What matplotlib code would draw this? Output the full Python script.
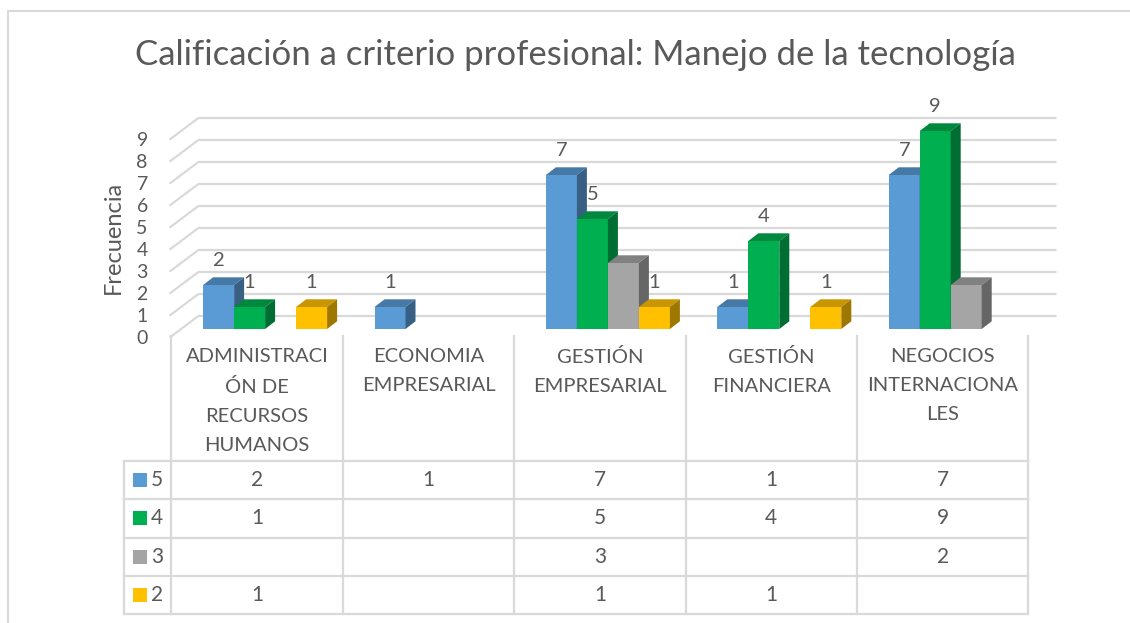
import numpy as np
import matplotlib
matplotlib.use("Agg")
import matplotlib.pyplot as plt
from matplotlib.patches import Polygon, Rectangle

plt.rcParams['font.family'] = ['Lato', 'DejaVu Sans']

# data
categorias = ["ADMINISTRACI\nÓN DE\nRECURSOS\nHUMANOS", "ECONOMIA\nEMPRESARIAL",
              "GESTIÓN\nEMPRESARIAL", "GESTIÓN\nFINANCIERA", "NEGOCIOS\nINTERNACIONA\nLES"]
series = ["5", "4", "3", "2"]
v5 = [2, 1, 7, 1, 7]
v4 = [1, np.nan, 5, 4, 9]
v3 = [np.nan, np.nan, 3, np.nan, 2]
v2 = [1, np.nan, 1, 1, np.nan]
valores = [v5, v4, v3, v2]
con_etiqueta = [True, True, False, True]
yticks = list(range(0, 10))

colores = ['#5B9BD5', '#00B050', '#A5A5A5', '#FFC000']
texto = '#595959'
rejilla = '#D9D9D9'

W, H = 1130, 623
PXC = 171.4   # px per category
PXV = 22.0    # px per value unit

fig = plt.figure(figsize=(W / 100, H / 100), dpi=100)

# overlay in pixel coords
ov = fig.add_axes([0, 0, 1, 1])
ov.set_xlim(0, W)
ov.set_ylim(H, 0)
ov.axis('off')

ax = fig.add_axes([171.4 / W, (H - 337) / H, 5 * PXC / W, 9 * PXV / H])
ax.set_xlim(-0.5, 4.5)
ax.set_ylim(0, 9)
for s in ax.spines.values():
    s.set_visible(False)
ax.patch.set_alpha(0)
ax.set_xticks([])
ax.set_yticks(yticks)
ax.tick_params(axis='y', length=0, pad=17, labelsize=14, labelcolor=texto)

# back wall + side wall gridlines
wx, wy = 27 / PXC, 21 / PXV
for v in yticks:
    ax.plot([-0.5 - 1 / PXC, -0.5 + wx, 4.5 + wx], [v, v + wy, v + wy],
            color=rejilla, lw=1.6, clip_on=False, zorder=1)

# bars
w = 31 / PXC
bx, by = 8 / PXC, 8 / PXV
ddx, ddy = 10 / PXC, 7.7 / PXV


def oscurecer(c, f):
    r, g, b = matplotlib.colors.to_rgb(c)
    return (r * f, g * f, b * f)


for i in range(len(categorias)):
    for k, vals in enumerate(valores):
        v = vals[i]
        if np.isnan(v):
            continue
        x0 = i + (k - 2) * w + bx
        x1 = x0 + w
        top = by + v
        ax.bar(x0, v, width=w, bottom=by, align='edge', color=colores[k],
               lw=0, clip_on=False, zorder=3)
        ax.add_patch(Polygon([(x0, top), (x1, top), (x1 + ddx, top + ddy), (x0 + ddx, top + ddy)],
                             closed=True, fc=oscurecer(colores[k], 0.78), lw=0, clip_on=False, zorder=3))
        ax.add_patch(Polygon([(x1, by), (x1, top), (x1 + ddx, top + ddy), (x1 + ddx, by + ddy)],
                             closed=True, fc=oscurecer(colores[k], 0.62), lw=0, clip_on=False, zorder=3))
        if con_etiqueta[k]:
            ax.text(x0 + w / 2, top + 25 / PXV, f"{int(v)}", ha='center', va='center',
                    fontsize=14.5, color=texto, clip_on=False, zorder=4)

# frame
ov.plot([8, 8, W], [H, 11, 11], color=rejilla, lw=1.5)

# title and axis label
ov.text(575, 55, "Calificación a criterio profesional: Manejo de la tecnología",
        ha='center', va='center', fontsize=25, color=texto)
ov.text(113, 237, "Frecuencia", ha='center', va='center', rotation=90,
        fontsize=17, color=texto)

# data table
cols = [171.4 + PXC * j for j in range(len(categorias) + 1)]
rows = [461, 499.3, 537.6, 575.9, 614.2]
for x in cols:
    ov.plot([x, x], [336, rows[-1]], color=rejilla, lw=1.6)
ov.plot([124, 124], [rows[0], rows[-1]], color=rejilla, lw=1.6)
for y in rows:
    ov.plot([124, cols[-1]], [y, y], color=rejilla, lw=1.6)

for j, cat in enumerate(categorias):
    cx = (cols[j] + cols[j + 1]) / 2
    ov.text(cx, 348, cat, ha='center', va='top', fontsize=14.5, color=texto,
            linespacing=1.87)

for k, nombre in enumerate(series):
    cy = (rows[k] + rows[k + 1]) / 2
    ov.add_patch(Rectangle((133, cy - 7), 14, 14, fc=colores[k], lw=0))
    ov.text(151, cy, nombre, ha='left', va='center', fontsize=15, color=texto)
    for j in range(len(categorias)):
        v = valores[k][j]
        if not np.isnan(v):
            cx = (cols[j] + cols[j + 1]) / 2
            ov.text(cx, cy, f"{int(v)}", ha='center', va='center', fontsize=15, color=texto)

fig.savefig("out.png", dpi=100)
